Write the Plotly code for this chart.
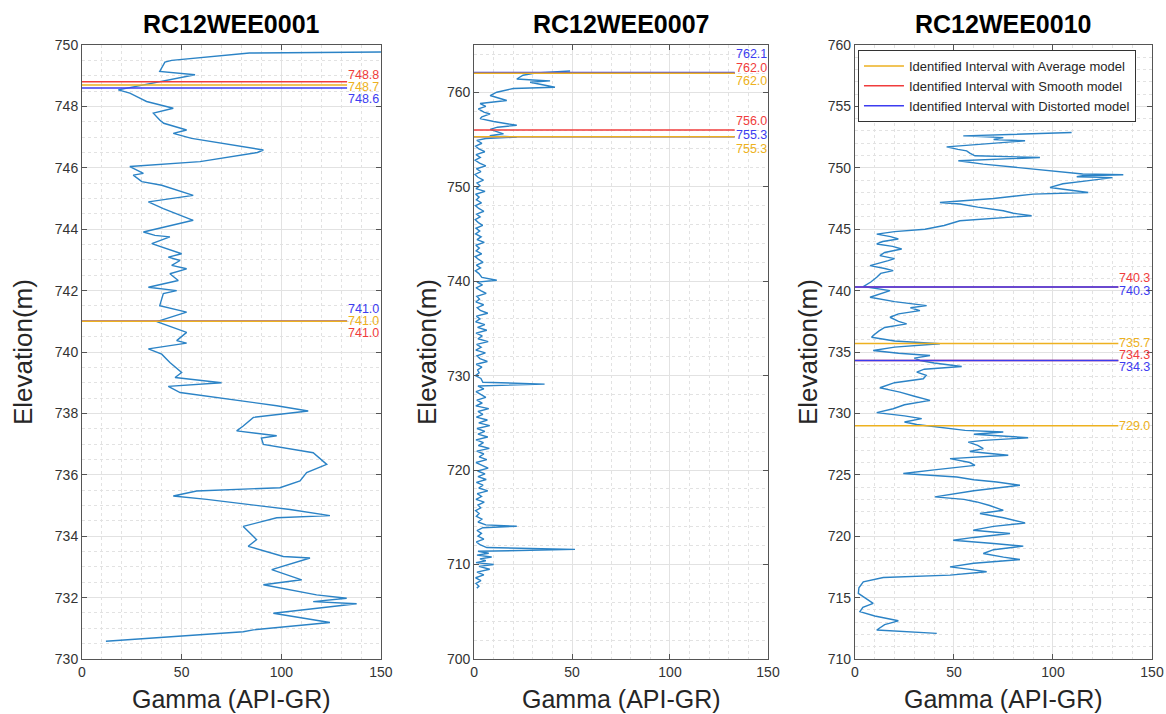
import plotly.graph_objects as go

# ---------------- data ----------------
well_names = ["RC12WEE0001", "RC12WEE0007", "RC12WEE0010"]

# Well 1: elevation (m) / gamma (API-GR)
w1_elev = [749.77, 749.74, 749.5, 749.44, 749.14, 749.03, 748.54, 748.43, 748.27, 748.16, 747.94, 747.78,
           747.56, 747.45, 747.23, 747.12, 746.96, 746.58, 746.5, 746.2, 746.04, 745.82, 745.76, 745.55,
           745.43, 745.1, 744.89, 744.67, 744.29, 744.07, 743.91, 743.8, 743.75, 743.53, 743.2, 743.09,
           742.98, 742.82, 742.71, 742.55, 742.33, 742.11, 742.05, 742.0, 741.9, 741.51, 741.3, 740.99,
           740.64, 740.37, 740.29, 740.1, 739.93, 739.66, 739.33, 739.17, 739.0, 738.88, 738.68, 738.46,
           738.25, 738.08, 737.87, 737.59, 737.43, 737.27, 737.2, 736.99, 736.72, 736.34, 736.07, 735.8,
           735.58, 735.47, 735.31, 735.2, 734.87, 734.67, 734.6, 734.32, 733.89, 733.67, 733.34, 733.29,
           732.91, 732.58, 732.42, 732.09, 731.98, 731.87, 731.8, 731.49, 731.19, 730.95, 730.89, 730.58]
w1_gamma = [150, 84, 45, 41.6, 39, 56.7, 18.2, 24, 29, 32.4, 45.8, 35.8,
            39, 41, 52.5, 45.8, 55, 91, 88, 59.2, 24, 30.8, 25.7, 30,
            40, 55.8, 33.3, 40.8, 55.8, 40.8, 30.8, 36.6, 44.1, 35, 50, 43.3,
            49.2, 45, 52.5, 44.1, 48.3, 33.3, 40, 47.5, 40.8, 39, 52.5, 37.5,
            52.5, 47.5, 52.5, 33.3, 40, 44.1, 50, 46.7, 70, 43.3, 49.2, 75.1,
            97.7, 113.5, 86, 80.9, 77.6, 97.7, 90, 91, 116, 122.8, 112.7, 109.4,
            99.3, 57.5, 45.8, 62.6, 104.4, 124.4, 97.7, 80.9, 87.6, 83.4, 101, 114.4,
            95.2, 110.2, 91, 117.7, 132.8, 116, 137.8, 96, 124.4, 86, 80.9, 12]

# Well 7 (upper part)
w7_elev_top = [762.25, 762.05, 761.8, 761.4, 761.3, 761.2, 761.06, 760.9, 760.53, 760.4, 760.0, 759.65,
               759.4, 759.12, 758.8, 758.5, 758.24, 757.9, 757.7, 757.4, 757.2, 756.9, 756.5, 756.3,
               756.07, 755.8, 755.6, 755.4, 755.26, 755.1, 754.9]
w7_gamma_top = [49, 32, 25, 21.8, 30, 38.8, 28.6, 33, 41.3, 20, 11.6, 8.2,
                12, 16.7, 3.1, 6, 2.2, 5, 8.2, 4, 3.1, 10, 21.8, 12,
                8.2, 12, 15, 8, 21.8, 6, 1.4]
# Well 7 (lower part)
w7_elev_low = [754.6, 754.3, 754.0, 753.7, 753.4, 753.1, 752.8, 752.5, 752.2, 751.9,
               751.6, 751.3, 751.0, 750.7, 750.4, 750.1, 749.8, 749.5, 749.2, 748.9,
               748.6, 748.3, 748.0, 747.7, 747.4, 747.1, 746.8, 746.5, 746.2, 745.9,
               745.6, 745.3, 745.0, 744.7, 744.4, 744.1, 743.8, 743.5, 743.2, 742.9,
               742.6, 742.3, 742.0, 741.7, 741.4, 741.1, 740.8, 740.4, 740.1, 739.9,
               739.6, 739.3, 739.0, 738.7, 738.4, 738.1, 737.8, 737.5, 737.2, 736.9,
               736.6, 736.3, 736.0, 735.7, 735.4, 735.1, 734.8, 734.5, 734.2, 733.9,
               733.6, 733.3, 733.0, 732.7, 732.4, 732.1, 731.8, 731.5, 731.2, 730.9,
               730.6, 730.3, 730.0, 729.7, 729.3, 729.1, 728.9, 728.6, 728.3, 728.0,
               727.7, 727.4, 727.1, 726.8, 726.5, 726.2, 725.9, 725.6, 725.3, 725.0,
               724.7, 724.4, 724.1, 723.8, 723.5, 723.2, 722.9, 722.6, 722.3, 722.0,
               721.7, 721.4, 721.1, 720.8, 720.5, 720.2, 719.9, 719.6, 719.3, 719.0,
               718.7, 718.4, 718.1, 717.8, 717.5, 717.2, 716.9, 716.6, 716.3, 716.0,
               715.7, 715.4, 715.1, 714.8, 714.5, 714.2, 714.05, 713.9, 713.6, 713.3,
               713.0, 712.7, 712.4, 712.1, 711.8, 711.6, 711.4, 711.2, 711.0, 710.8,
               710.6, 710.4, 710.2, 710.0, 709.8, 709.5, 709.2, 708.9, 708.6, 708.3,
               708.0, 707.7, 707.5]
w7_gamma_low = [4.0, 0.8, 2.5, 5.5, 1.0, 3.2, 0.6, 2.8, 6.0, 1.2,
                3.5, 0.5, 2.0, 4.8, 1.5, 3.0, 1.0, 5.6, 0.8, 2.6,
                1.2, 3.8, 0.7, 2.4, 5.0, 1.3, 3.1, 0.6, 2.2, 4.4,
                1.0, 2.9, 0.8, 3.6, 1.5, 5.2, 0.9, 2.7, 1.1, 3.9,
                0.6, 2.3, 4.6, 1.2, 3.3, 0.7, 2.5, 4.0, 11.6, 1.5,
                4.3, 1.0, 3.4, 6.2, 1.4, 2.8, 0.9, 4.9, 1.6, 3.2,
                7.0, 1.2, 3.0, 0.8, 5.5, 1.8, 6.5, 1.0, 4.2, 2.0,
                7.2, 1.3, 3.6, 0.9, 5.8, 1.5, 3.0, 6.8, 1.1, 4.0,
                1.8, 2.6, 0.7, 3.5, 4.5, 36.0, 2.0, 5.0, 1.0, 3.3,
                6.0, 1.4, 4.2, 0.9, 7.5, 2.0, 4.5, 1.2, 6.8, 2.4,
                8.0, 1.5, 5.5, 2.0, 7.0, 1.0, 4.8, 2.2, 7.8, 1.4,
                5.0, 2.6, 6.5, 1.0, 4.0, 7.2, 1.8, 5.6, 2.0, 6.2,
                1.2, 4.6, 2.4, 7.0, 1.6, 3.8, 1.0, 5.2, 2.0, 3.4,
                0.8, 2.6, 1.2, 4.0, 2.0, 6.0, 21.8, 4.5, 1.5, 3.8,
                2.0, 5.0, 1.2, 3.0, 6.5, 51.5, 2.0, 7.5, 1.5, 9.0,
                3.0, 6.0, 1.0, 10.0, 2.5, 8.0, 1.5, 5.0, 0.8, 3.5,
                1.0, 2.5, 1.4]

# Well 10
w10_elev = [752.87, 752.6, 752.46, 752.3, 752.2, 751.9, 751.7, 751.5, 751.38, 751.2, 750.98, 750.84,
            750.57, 750.3, 750.03, 749.76, 749.5, 749.43, 749.35, 749.27, 749.2, 748.94, 748.7, 748.4,
            747.99, 747.86, 747.5, 747.18, 747.05, 746.8, 746.5, 746.3, 746.1, 745.69, 745.3, 745.0,
            744.8, 744.6, 744.4, 744.2, 744.0, 743.8, 743.6, 743.39, 743.1, 742.85, 742.6, 742.44,
            742.2, 742.03, 741.8, 741.63, 741.4, 741.08, 740.7, 740.33, 740.0, 739.7, 739.46, 739.1,
            738.9, 738.78, 738.6, 738.37, 738.1, 737.83, 737.5, 737.29, 737.0, 736.7, 736.34, 736.2,
            735.9, 735.67, 735.4, 735.12, 734.9, 734.72, 734.5, 734.31, 734.1, 733.82, 733.6, 733.36,
            733.1, 732.82, 732.5, 732.09, 731.9, 731.73, 731.4, 731.06, 730.7, 730.38, 730.06, 729.8,
            729.57, 729.3, 729.1, 728.8, 728.62, 728.48, 728.3, 728.02, 727.8, 727.66, 727.4, 727.13,
            726.9, 726.59, 726.32, 726.0, 725.77, 725.4, 725.1, 724.82, 724.6, 724.41, 724.15, 723.7,
            723.2, 723.0, 722.79, 722.5, 722.11, 721.85, 721.5, 721.08, 720.8, 720.49, 720.22, 719.9,
            719.67, 719.4, 719.19, 718.9, 718.59, 718.3, 718.1, 717.8, 717.5, 717.3, 717.1, 716.83,
            716.64, 716.28, 715.8, 715.34, 715.0, 714.53, 714.2, 713.85, 713.5, 713.11, 712.8, 712.36,
            712.09]
w10_gamma = [109.4, 54.7, 74.9, 70, 85.9, 60, 46.3, 52, 56.4, 58, 60.6, 93.4,
             52.2, 64.8, 81.7, 96.8, 115, 135.5, 115, 112, 130, 117, 105, 98.5,
             117.8, 90, 70, 42.9, 53, 62, 74.9, 80, 89.2, 53, 45, 35.4,
             20, 11, 18, 21.9, 14, 11, 19, 23.6, 15, 12.6, 20, 16.8,
             12, 7.6, 15, 19.3, 13, 11, 8, 4.2, 17.7, 12, 7.6, 20,
             30, 36.2, 28, 32.8, 22, 17.7, 22, 26.1, 15, 12, 9.2, 8.4,
             20, 42.9, 20, 9.2, 22, 37.9, 30, 32.8, 40, 53.9, 35, 31.2,
             36, 34.5, 20, 12.6, 18, 22.7, 30, 37.9, 25, 19.3, 11, 25,
             33.7, 25, 31.2, 45, 55.6, 74.9, 60, 87.5, 65, 57.2, 62, 64.8,
             58, 77.4, 48, 58, 60.6, 40, 24.4, 51.4, 60, 71.6, 83.3, 60,
             40.4, 55, 61.5, 68, 74.9, 63.1, 75, 85.9, 70, 59.7, 78.3, 60,
             49.6, 70, 85, 70, 64.8, 75, 83.3, 60, 48, 58, 66.5, 48,
             14.3, 4.2, 2, 1.7, 5, 9.2, 4, 2.5, 10, 21.9, 15, 11,
             41.3]

# Identified intervals (elevation, m) per model, one list per well
avg_intervals = [[748.7, 741.0], [762.0, 755.3], [735.7, 729.0]]
smooth_intervals = [[748.8, 741.0], [762.0, 756.0], [740.3, 734.3]]
dist_intervals = [[748.6, 741.0], [762.1, 755.3], [740.3, 734.3]]

model_names = ["Identified Interval with Average model",
               "Identified Interval with Smooth model",
               "Identified Interval with Distorted model"]

x_ticks = [0, 50, 100, 150]
y_ranges = [[730, 750], [700, 765], [710, 760]]
y_dticks = [2, 10, 5]
y_minor = [0.5, 2, 1]

# ---------------- styling ----------------
FONT = "Liberation Sans, Arial, sans-serif"
CURVE = "#2b83c6"
C_AVG = "#EDB120"
C_SMO = "#f03c3c"
C_DIS = "#3c3cf0"
LINE_END = 133
# label vertical pixel offsets for each (panel, model, interval index)
label_shift = {
    (0, "avg", 0): -2, (0, "smo", 0): 7, (0, "dis", 0): -11,
    (0, "avg", 1): 0, (0, "smo", 1): -12, (0, "dis", 1): 12,
    (1, "avg", 0): -8, (1, "smo", 0): 5, (1, "dis", 0): 18,
    (1, "avg", 1): -12, (1, "smo", 1): 9, (1, "dis", 1): 2,
    (2, "avg", 0): 0, (2, "smo", 0): 9, (2, "dis", 0): -4,
    (2, "avg", 1): 0, (2, "smo", 1): 6, (2, "dis", 1): -6,
}

domains = [[0.0, 0.2794], [0.3664, 0.6411], [0.7224, 1.0]]
curves = [(w1_gamma, w1_elev),
          (w7_gamma_top + w7_gamma_low, w7_elev_top + w7_elev_low),
          (w10_gamma, w10_elev)]

fig = go.Figure()
annotations = []

for i in range(3):
    xa = "x" if i == 0 else f"x{i+1}"
    ya = "y" if i == 0 else f"y{i+1}"
    g, e = curves[i]
    fig.add_trace(go.Scatter(x=g, y=e, mode="lines", xaxis=xa, yaxis=ya,
                             line=dict(color=CURVE, width=1.4), showlegend=False,
                             hoverinfo="skip"))
    models = [("smo", smooth_intervals[i], C_SMO, model_names[1]),
              ("dis", dist_intervals[i], C_DIS, model_names[2]),
              ("avg", avg_intervals[i], C_AVG, model_names[0])]
    for key, vals, col, nm in models:
        for j, v in enumerate(vals):
            fig.add_trace(go.Scatter(x=[0, LINE_END], y=[v, v], mode="lines",
                                     xaxis=xa, yaxis=ya, line=dict(color=col, width=1.5),
                                     name=nm, legendgroup=key,
                                     showlegend=(i == 2 and j == 0)))
            annotations.append(dict(x=LINE_END, y=v, xref=xa, yref=ya, text=f"{v:.1f}",
                                    showarrow=False, xanchor="left", yanchor="middle",
                                    yshift=label_shift[(i, key, j)], xshift=-1,
                                    font=dict(family=FONT, size=12.5, color=col)))

# titles & axis titles
for i in range(3):
    cx = (domains[i][0] + domains[i][1]) / 2
    annotations.append(dict(x=cx, y=1.034, xref="paper", yref="paper", text=f"<b>{well_names[i]}</b>",
                            showarrow=False, xanchor="center", yanchor="middle",
                            font=dict(family=FONT, size=25, color="black")))
    annotations.append(dict(x=cx, y=-0.065, xref="paper", yref="paper", text="Gamma (API-GR)",
                            showarrow=False, xanchor="center", yanchor="middle",
                            font=dict(family=FONT, size=25, color="#262626")))
ylab_x = [-0.0551, 0.3224, 0.6785]
for i in range(3):
    annotations.append(dict(x=ylab_x[i], y=0.5, xref="paper", yref="paper", text="Elevation(m)",
                            showarrow=False, textangle=-90, xanchor="center", yanchor="middle",
                            font=dict(family=FONT, size=26, color="#262626")))

axis_common = dict(showline=True, linecolor="#555555", linewidth=1, mirror="ticks",
                   ticks="inside", ticklen=5, tickcolor="#555555", automargin=False,
                   showgrid=True, gridcolor="#e2e2e2", gridwidth=1, zeroline=False,
                   tickfont=dict(family=FONT, size=14, color="#333333"))

layout = dict(width=1166, height=714, autosize=False, paper_bgcolor="white", plot_bgcolor="white",
              margin=dict(l=82, r=14, t=45, b=55, autoexpand=False), annotations=annotations,
              showlegend=True,
              legend=dict(x=0.7252, y=0.9919, xanchor="left", yanchor="top",
                          bgcolor="white", bordercolor="#333333", borderwidth=1,
                          font=dict(family=FONT, size=13, color="#262626"),
                          tracegroupgap=0, traceorder="normal", itemwidth=40))

for i in range(3):
    xk = "xaxis" if i == 0 else f"xaxis{i+1}"
    yk = "yaxis" if i == 0 else f"yaxis{i+1}"
    ya = "y" if i == 0 else f"y{i+1}"
    xa = "x" if i == 0 else f"x{i+1}"
    layout[xk] = dict(axis_common, domain=domains[i], anchor=ya, range=[0, 150],
                      tickvals=x_ticks,
                      minor=dict(dtick=10, showgrid=True, gridcolor="#e2e2e2", griddash="dot", ticks=""))
    layout[yk] = dict(axis_common, domain=[0, 1], anchor=xa, range=y_ranges[i],
                      dtick=y_dticks[i], tick0=0,
                      minor=dict(dtick=y_minor[i], showgrid=True, gridcolor="#e2e2e2", griddash="dot", ticks=""))

fig.update_layout(**layout)

# legend order: average, smooth, distorted
order = {model_names[0]: 1, model_names[1]: 2, model_names[2]: 3}
for tr in fig.data:
    if tr.name in order:
        tr.legendrank = order[tr.name]

fig.write_html("out.html", config={"displayModeBar": False, "responsive": False},
               post_script="document.body.style.margin='0';document.body.style.overflow='hidden';")
